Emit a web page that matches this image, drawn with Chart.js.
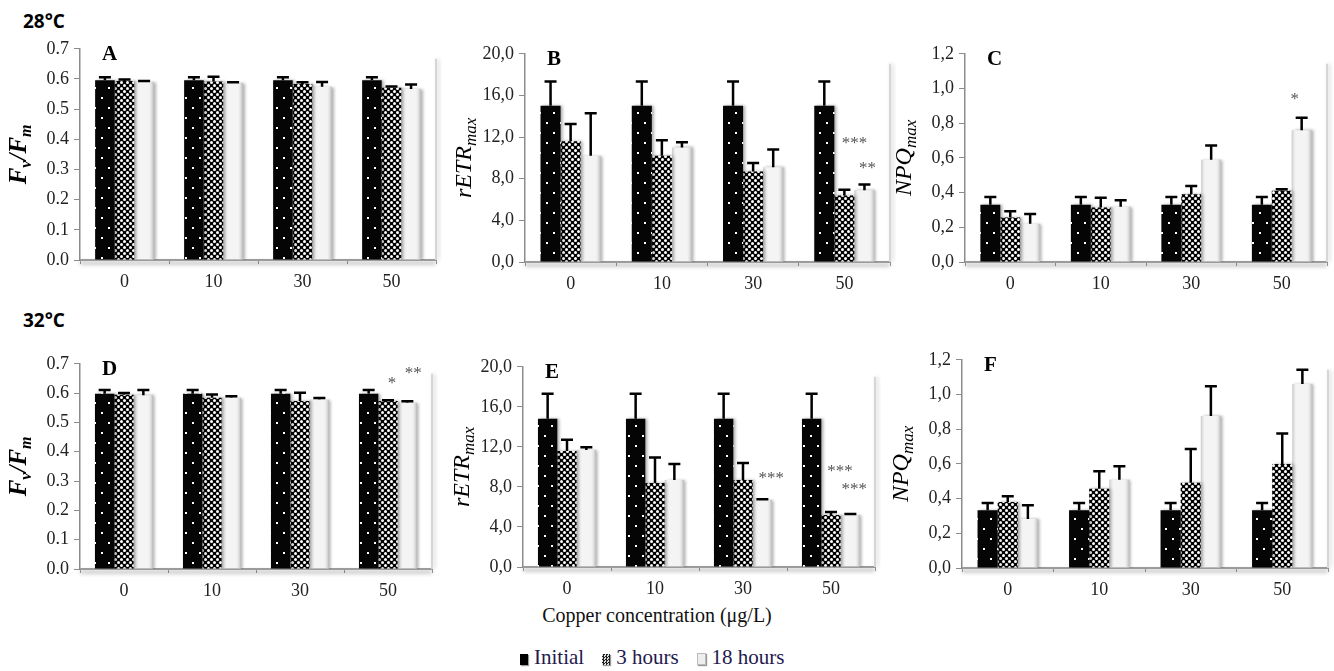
<!DOCTYPE html>
<html>
<head>
<meta charset="utf-8">
<script src="https://cdn.jsdelivr.net/npm/chart.js@4.4.0/dist/chart.umd.min.js"></script>
<style>
body{margin:0;background:#fff;width:1334px;height:671px;position:relative;overflow:hidden;font-family:'Liberation Serif','Times New Roman',serif;}
canvas{position:absolute;}
.temp{position:absolute;font-family:'Open Sans',sans-serif;font-weight:700;font-size:19px;line-height:20px;color:#000;}
#xtitle{position:absolute;left:457px;width:400px;text-align:center;top:604px;font-family:'Liberation Serif',serif;font-size:20px;line-height:22px;color:#111;}
#legend{position:absolute;left:520px;top:646px;font-family:'Liberation Serif',serif;font-size:21px;line-height:22px;color:#1f1a4d;white-space:nowrap;}
#legend span.sw{display:inline-block;width:8px;height:11px;margin-right:6px;vertical-align:-1px;box-shadow:1px 1px 1px #999;}
#legend span.it{margin-right:18px;}
</style>
</head>
<body>
<div class="temp" style="left:23px;top:11px">28°C</div>
<div class="temp" style="left:23px;top:310px">32°C</div>
<div id="xtitle">Copper concentration (μg/L)</div>
<div id="legend"><span class="sw" style="background:#000"></span><span class="it">Initial</span><span class="sw" style="background:repeating-conic-gradient(#222 0 25%,#ddd 0 50%) 0 0/3px 3px"></span><span class="it">3 hours</span><span class="sw" style="background:#eee;border:1px solid #bbb;width:7px;height:10px"></span><span>18 hours</span></div>
<script>
const copper = ['0', '10', '30', '50'];
const times = ['Initial', '3 hours', '18 hours'];

const fvfmTicks = [0, 0.1, 0.2, 0.3, 0.4, 0.5, 0.6, 0.7];
const etrTicks = [0, 4, 8, 12, 16, 20];
const npqTicks = [0, 0.2, 0.4, 0.6, 0.8, 1.0, 1.2];

// 28 °C  (rows: Initial, 3 hours, 18 hours)
const fvfm28 = [[0.596, 0.596, 0.596, 0.596], [0.593, 0.592, 0.583, 0.571], [0.590, 0.587, 0.574, 0.567]];
const fvfm28Err = [[0.010, 0.010, 0.010, 0.010], [0.005, 0.015, 0.006, 0.004], [0.003, 0.002, 0.016, 0.015]];
const etr28 = [[15.0, 15.0, 15.0, 15.0], [11.6, 10.2, 8.7, 6.4], [10.2, 11.0, 9.1, 6.9]];
const etr28Err = [[2.35, 2.35, 2.35, 2.35], [1.65, 1.5, 0.8, 0.55], [4.1, 0.5, 1.7, 0.55]];
const npq28 = [[0.33, 0.33, 0.33, 0.33], [0.257, 0.314, 0.39, 0.41], [0.22, 0.318, 0.59, 0.76]];
const npq28Err = [[0.045, 0.045, 0.045, 0.045], [0.035, 0.057, 0.048, 0.01], [0.056, 0.038, 0.082, 0.072]];

// 32 °C
const fvfm32 = [[0.598, 0.598, 0.598, 0.598], [0.594, 0.584, 0.573, 0.573], [0.593, 0.584, 0.578, 0.567]];
const fvfm32Err = [[0.013, 0.013, 0.013, 0.013], [0.006, 0.011, 0.028, 0.003], [0.018, 0.005, 0.005, 0.005]];
const etr32 = [[14.8, 14.8, 14.8, 14.8], [11.6, 8.4, 8.7, 5.2], [11.7, 8.7, 6.7, 5.2]];
const etr32Err = [[2.5, 2.5, 2.5, 2.5], [1.1, 2.55, 1.7, 0.3], [0.26, 1.6, 0.07, 0.1]];
const npq32 = [[0.333, 0.333, 0.333, 0.333], [0.381, 0.457, 0.491, 0.60], [0.282, 0.509, 0.876, 1.061]];
const npq32Err = [[0.042, 0.042, 0.042, 0.042], [0.032, 0.10, 0.195, 0.175], [0.08, 0.078, 0.172, 0.082]];

// significance marks (cat, series, text, value it sits at)
const etr28Notes = [{cat: 3, set: 1, text: '***', at: 11.6, dx: 10}, {cat: 3, set: 2, text: '**', at: 9.2, dx: 3}];
const npq28Notes = [{cat: 3, set: 2, text: '*', at: 0.95, dx: -7}];
const fvfm32Notes = [{cat: 3, set: 1, text: '*', at: 0.64, dx: 4}, {cat: 3, set: 2, text: '**', at: 0.674, dx: 6}];
const etr32Notes = [{cat: 2, set: 2, text: '***', at: 9.1, dx: 9}, {cat: 3, set: 1, text: '***', at: 9.8, dx: 9}, {cat: 3, set: 2, text: '***', at: 8.0, dx: 4}];
const npq32Notes = [{cat: 3, set: 1, text: '*', at: 0.495, dx: 8}];

const fvfmTitle = [{t: 'F', f: 'bold italic 25px'}, {t: 'v', f: 'bold italic 16px', sub: true}, {t: '/F', f: 'bold italic 25px'}, {t: 'm', f: 'bold italic 16px', sub: true}];
const etrTitle = [{t: 'rETR', f: 'italic 24px'}, {t: 'max', f: 'italic 17px', sub: true}];
const npqTitle = [{t: 'NPQ', f: 'italic 24px'}, {t: 'max', f: 'italic 17px', sub: true}];

// patterns
function dotPattern() {
  const c = document.createElement('canvas'); c.width = 14; c.height = 20;
  const g = c.getContext('2d');
  g.fillStyle = '#050505'; g.fillRect(0, 0, 14, 20);
  g.fillStyle = '#fff'; g.fillRect(3, 4, 2, 2); g.fillRect(10, 14, 2, 2);
  return g.createPattern(c, 'repeat');
}
function netPattern() {
  const c = document.createElement('canvas'); c.width = 6; c.height = 6;
  const g = c.getContext('2d');
  g.fillStyle = '#000'; g.fillRect(0, 0, 6, 6);
  g.fillStyle = '#fff';
  [[1.5, 1.5], [4.5, 4.5]].forEach(([x, y]) => { g.beginPath(); g.arc(x, y, 1.5, 0, Math.PI * 2); g.fill(); });
  return g.createPattern(c, 'repeat');
}
const fills = [dotPattern(), netPattern(), '#f4f4f4'];

const panels = [
  {id: 'A', box: [80, 436, 47, 260], mean: fvfm28, err: fvfm28Err, ticks: fvfmTicks, sep: '.', title: fvfmTitle, notes: []},
  {id: 'B', box: [525, 890, 52, 262], mean: etr28, err: etr28Err, ticks: etrTicks, sep: ',', title: etrTitle, notes: etr28Notes},
  {id: 'C', box: [965, 1327, 52, 262], mean: npq28, err: npq28Err, ticks: npqTicks, sep: ',', title: npqTitle, notes: npq28Notes},
  {id: 'D', box: [80, 432, 362, 569], mean: fvfm32, err: fvfm32Err, ticks: fvfmTicks, sep: '.', title: fvfmTitle, notes: fvfm32Notes},
  {id: 'E', box: [523, 875, 365, 567], mean: etr32, err: etr32Err, ticks: etrTicks, sep: ',', title: etrTitle, notes: etr32Notes},
  {id: 'F', box: [962, 1328, 358, 568], mean: npq32, err: npq32Err, ticks: npqTicks, sep: ',', title: npqTitle, notes: npq32Notes}
];

const PAD_TOP = 14, Y_W = 80, X_H = 30, PAD_R = 6;

// axis shadow, bar shading, error bars, stars, letters, y titles
const decor = {
  id: 'decor',
  beforeDatasetsDraw(chart) {
    const {ctx, chartArea: a} = chart;
    ctx.save();
    ctx.shadowColor = 'rgba(0,0,0,0.4)'; ctx.shadowBlur = 4; ctx.shadowOffsetY = 3;
    ctx.strokeStyle = '#9b9b9b'; ctx.lineWidth = 2;
    ctx.beginPath(); ctx.moveTo(a.left, a.bottom); ctx.lineTo(a.right, a.bottom); ctx.stroke();
    ctx.shadowOffsetY = 0; ctx.shadowOffsetX = 2; ctx.shadowColor = 'rgba(0,0,0,0.2)';
    ctx.strokeStyle = '#d6d6d6';
    ctx.beginPath(); ctx.moveTo(a.right, a.top + 10); ctx.lineTo(a.right, a.bottom); ctx.stroke();
    ctx.restore();
    ctx.save();
    ctx.shadowColor = 'rgba(0,0,0,0.32)'; ctx.shadowBlur = 3; ctx.shadowOffsetX = 2;
  },
  afterDatasetsDraw(chart) {
    const ctx = chart.ctx;
    ctx.restore();
    const p = chart.options.plugins.decor.panel;
    const a = chart.chartArea, y = chart.scales.y;

    // bevel on the light bars
    chart.getDatasetMeta(2).data.forEach(bar => {
      const w = bar.width, x0 = bar.x - w / 2;
      const gr = ctx.createLinearGradient(x0, 0, x0 + w, 0);
      gr.addColorStop(0, 'rgba(160,160,160,0.55)');
      gr.addColorStop(0.25, 'rgba(255,255,255,0)');
      gr.addColorStop(0.7, 'rgba(255,255,255,0)');
      gr.addColorStop(1, 'rgba(140,140,140,0.6)');
      ctx.fillStyle = gr;
      ctx.fillRect(x0, bar.y, w, bar.base - bar.y);
    });

    // error bars (upper only)
    ctx.save();
    ctx.strokeStyle = '#000'; ctx.lineWidth = 2.5;
    for (let s = 0; s < 3; s++) {
      chart.getDatasetMeta(s).data.forEach((bar, i) => {
        const top = y.getPixelForValue(p.mean[s][i] + p.err[s][i]);
        ctx.beginPath();
        ctx.moveTo(bar.x, bar.y); ctx.lineTo(bar.x, top);
        ctx.moveTo(bar.x - 6, top); ctx.lineTo(bar.x + 6, top);
        ctx.stroke();
      });
    }
    ctx.restore();

    // stars
    ctx.save();
    ctx.fillStyle = '#555'; ctx.font = '17px "Liberation Serif"'; ctx.textAlign = 'center';
    p.notes.forEach(n => {
      const bar = chart.getDatasetMeta(n.set).data[n.cat];
      ctx.fillText(n.text, bar.x + n.dx, y.getPixelForValue(n.at) + 7);
    });
    ctx.restore();

    // panel letter
    ctx.save();
    ctx.fillStyle = '#000'; ctx.font = 'bold 21px "Liberation Serif"';
    ctx.fillText(p.id, a.left + 22, a.top + 11);
    ctx.restore();

    // y title with subscripts
    ctx.save();
    ctx.translate(a.left - 60, (a.top + a.bottom) / 2);
    ctx.rotate(-Math.PI / 2);
    ctx.fillStyle = '#000'; ctx.textBaseline = 'middle';
    let total = 0;
    p.title.forEach(part => { ctx.font = part.f + ' "Liberation Serif"'; total += ctx.measureText(part.t).width; });
    let x = -total / 2;
    p.title.forEach(part => {
      ctx.font = part.f + ' "Liberation Serif"';
      ctx.fillText(part.t, x, part.sub ? 7 : 0);
      x += ctx.measureText(part.t).width;
    });
    ctx.restore();
  }
};

panels.forEach(p => {
  const [l, r, t, b] = p.box;
  const cv = document.createElement('canvas');
  cv.width = r - l + Y_W + PAD_R;
  cv.height = b - t + PAD_TOP + X_H;
  cv.style.left = (l - Y_W) + 'px';
  cv.style.top = (t - PAD_TOP) + 'px';
  document.body.appendChild(cv);

  new Chart(cv.getContext('2d'), {
    type: 'bar',
    data: {
      labels: copper,
      datasets: times.map((name, s) => ({
        label: name,
        data: p.mean[s],
        backgroundColor: fills[s],
        borderWidth: 0,
        categoryPercentage: 0.66,
        barPercentage: 1.0
      }))
    },
    options: {
      responsive: false,
      animation: false,
      events: [],
      layout: {padding: {top: PAD_TOP, right: PAD_R, left: 0, bottom: 0}},
      plugins: {legend: {display: false}, tooltip: {enabled: false}, decor: {panel: p}},
      scales: {
        x: {
          afterFit: s => { s.height = X_H; },
          grid: {drawOnChartArea: false, tickLength: 4, color: '#9b9b9b'},
          border: {display: false},
          ticks: {color: '#222', padding: 7, font: {family: 'Liberation Serif', size: 18}}
        },
        y: {
          min: 0,
          max: p.ticks[p.ticks.length - 1],
          afterFit: s => { s.width = Y_W; },
          afterBuildTicks: s => { s.ticks = p.ticks.map(v => ({value: v})); },
          grid: {drawOnChartArea: false, tickLength: 6, color: '#8c8c8c'},
          border: {color: '#8c8c8c', width: 1.5},
          ticks: {color: '#222', padding: 5, font: {family: 'Liberation Serif', size: 18},
            callback: v => v.toFixed(1).replace('.', p.sep)}
        }
      }
    },
    plugins: [decor]
  });
});
</script>
</body>
</html>
